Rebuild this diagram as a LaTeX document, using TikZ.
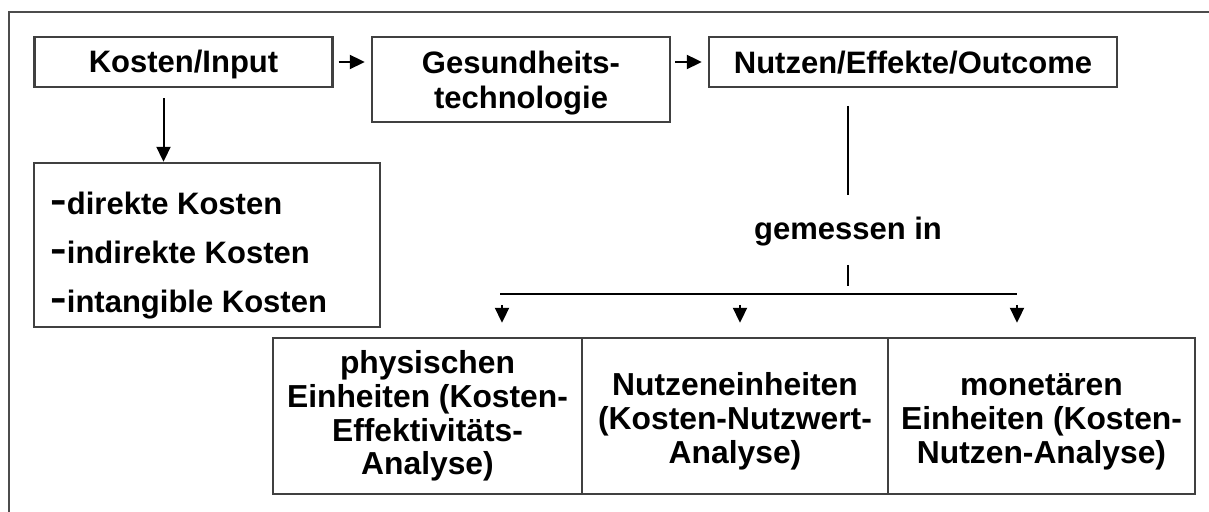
\documentclass[tikz,border=0pt]{standalone}
\usepackage{fontspec}
\usepackage{graphicx}
\setmainfont{Liberation Sans}
\usetikzlibrary{arrows.meta}

\newcommand{\strich}{\raisebox{1.3pt}{\scalebox{1.6}[1.2]{-}}}
\newcommand{\tiefer}[2]{\raisebox{-#1}[\height][\depth]{#2}}

\begin{document}
\begin{tikzpicture}[x=0.5pt, y=-0.5pt,
    >={Triangle[length=7.5pt,width=7pt]},
    font=\bfseries\fontsize{15.5}{17.5}\selectfont,
    box/.style={draw=black!75, line width=1.2pt, inner sep=0pt, align=center},
    zelle/.style={box, minimum width=153.5pt, minimum height=78pt,
                  font=\bfseries\fontsize{15.9}{16.8}\selectfont},
    edge/.style={->, line width=1pt},
    linie/.style={line width=1pt}]

  \useasboundingbox (0,0) rectangle (1209,512);
  \draw[black!70, line width=1.4pt] (9,512) -- (9,12) -- (1209,12);

  % obere Reihe
  \node[box, minimum width=149pt, minimum height=25pt]   (kosten)  at (183.5,62) {\tiefer{1pt}{Kosten/Input}};
  \node[box, minimum width=149pt, minimum height=42.5pt] (technik) at (521,79.5)  {\tiefer{1.75pt}{\shortstack{Gesundheits-\\[3.5pt]technologie}}};
  \node[box, minimum width=204pt, minimum height=25pt]   (nutzen)  at (913,62)    {\tiefer{0.5pt}{Nutzen/Effekte/Outcome}};

  % Kostenarten
  \node[box, minimum width=173pt, minimum height=82pt] (arten) at (207,245) {};
  \node[anchor=west, inner sep=0pt, align=left,
        font=\bfseries\fontsize{15.5}{24.5}\selectfont] (artentext) at (50,256)
        {\strich direkte Kosten\\\strich indirekte Kosten\\\strich intangible Kosten};

  % Messung
  \node[inner sep=0pt] (gemessen) at (848,232) {gemessen in};
  \coordinate (nfuss)   at (848,106);
  \coordinate (gkopf)   at (848,195);
  \coordinate (gfuss)   at (848,265);
  \coordinate (gende)   at (848,286);
  \coordinate (balkenL) at (500,294);
  \coordinate (balkenR) at (1017,294);

  \node[zelle, minimum width=154.5pt] (physisch) at (427.5,416)
        {physischen\\Einheiten (Kosten-\\Effektivitäts-\\Analyse)};
  \node[zelle, minimum width=153pt] (nutzw) at (735,416)
        {\mbox{}\\Nutzeneinheiten\\(Kosten-Nutzwert-\\Analyse)};
  \node[zelle] (monetaer) at (1041.5,416)
        {\mbox{}\\monetären\\Einheiten (Kosten-\\Nutzen-Analyse)};

  \draw[edge, shorten <=2.5pt, shorten >=3pt] (kosten.east) -- (kosten.east -| technik.west);
  \draw[edge, shorten <=2pt, shorten >=3pt] (technik.east |- nutzen.west) -- (nutzen.west);
  \draw[edge, shorten <=5pt] ([xshift=-10pt]kosten.south) -- ([xshift=-10pt]kosten.south |- arten.north);

  \draw[linie] (nfuss) -- (gkopf);
  \draw[linie] (gfuss) -- (gende);
  \draw[linie] (balkenL) -- (balkenR);
  \foreach \z/\x in {physisch/502, nutzw/740, monetaer/1017}
    \draw[edge, shorten <=5.5pt, shorten >=7pt] (\x,0 |- balkenL) -- (\x,0 |- \z.north);
\end{tikzpicture}
\end{document}
